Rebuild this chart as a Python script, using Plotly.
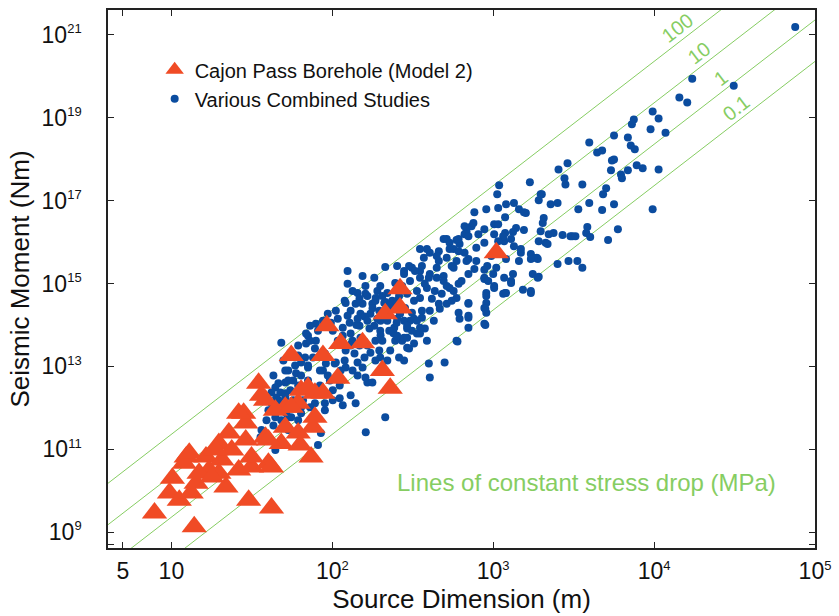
import plotly.graph_objects as go
import numpy as np

# ---------------- data (log10 values) ----------------
# Cajon Pass Borehole (Model 2): log10 source dimension (m), log10 seismic moment (Nm)
cajon_log_dim = [
    0.895, 1.142, 1.480, 1.622, 1.868, 2.034, 1.542, 1.585, 1.449, 1.357,
    1.295, 1.092, 1.006, 0.988, 1.049, 1.123, 1.215, 1.234, 1.339, 1.418,
    1.498, 1.603, 1.585, 1.683, 1.708, 1.788, 1.800, 1.880, 1.892, 1.708,
    1.788, 1.806, 1.892, 1.942, 1.646, 1.462, 1.375, 1.314, 1.154, 1.295,
    3.019, 1.966, 1.745, 1.942, 2.052, 2.188, 2.329, 2.421, 2.421, 2.311,
    2.360, 1.080, 1.111, 1.172, 1.252, 1.418, 1.498, 1.622, 1.603, 1.277,
    1.462, 1.560, 1.849, 1.745,
]
cajon_log_moment = [
    9.46, 9.13, 9.77, 9.58, 10.81, 12.71, 12.59, 12.18, 11.87, 11.39,
    11.14, 10.81, 10.30, 9.94, 9.77, 9.94, 10.81, 10.50, 10.09, 10.50,
    10.57, 10.66, 11.29, 11.14, 11.53, 11.39, 11.10, 11.53, 11.77, 12.01,
    12.11, 12.42, 12.35, 12.35, 11.94, 11.63, 10.98, 10.74, 10.18, 10.42,
    15.74, 13.98, 13.26, 13.26, 13.55, 13.57, 14.27, 14.87, 14.41, 12.90,
    12.47, 10.66, 10.90, 10.42, 10.33, 11.87, 10.81, 10.57, 11.22, 10.98,
    11.22, 12.30, 12.49, 12.01,
]

# Various Combined Studies: log10 source dimension (m), log10 seismic moment (Nm)
studies_log_dim = [
    4.877, 4.495, 4.237, 4.157, 4.206, 3.991, 4.028, 3.978, 4.071, 3.874,
    3.862, 3.751, 3.837, 3.855, 3.880, 3.597, 3.646, 3.677, 3.738, 3.751,
    3.892, 3.929, 4.028, 3.837, 3.732, 3.794, 3.800, 3.462, 3.406, 3.443,
    3.449, 3.228, 3.554, 3.702, 3.683, 3.302, 3.283, 3.357, 3.400, 3.529,
    3.597, 3.677, 3.751, 3.991, 3.775, 3.714, 3.585, 3.578, 3.603, 3.492,
    3.431, 3.554, 3.468, 3.400, 3.234, 3.185, 3.283, 3.271, 3.326, 3.345,
    3.295, 3.308, 3.314, 3.037, 3.025, 2.957, 2.883, 3.031, 3.080, 3.129,
    3.160, 3.203, 3.074, 3.142, 3.123, 3.191, 3.006, 2.945, 2.834, 2.822,
    2.772, 2.711, 2.662, 2.895, 2.945, 2.846, 2.754, 2.791, 3.068, 3.074,
    3.129, 3.172, 3.160, 3.080, 3.234, 3.277, 2.963, 3.019, 3.123, 2.846,
    2.785, 2.729, 2.945, 2.957, 3.006, 3.074, 3.111, 2.846, 2.957, 2.588,
    2.569, 2.649, 2.606, 2.692, 2.754, 3.191, 3.295, 3.338, 3.283, 3.375,
    3.480, 3.511, 3.246, 3.277, 3.234, 3.172, 3.252, 3.111, 3.031, 2.908,
    2.846, 2.865, 2.785, 2.729, 2.692, 2.877, 2.822, 3.006, 3.062, 3.031,
    2.822, 2.785, 2.729, 2.606, 2.545, 2.662, 2.711, 2.772, 2.883, 2.945,
    3.000, 2.969, 3.006, 3.068, 3.111, 3.062, 2.957, 2.945, 2.957, 2.846,
    2.846, 2.791, 2.785, 2.772, 2.754, 2.692, 2.649, 2.600, 2.545, 2.495,
    2.446, 2.483, 2.588, 2.637, 2.680, 2.711, 2.668, 2.606, 2.557, 2.631,
    2.575, 2.526, 2.483, 2.465, 2.508, 2.465, 2.434, 2.421, 2.945, 2.772,
    2.698, 2.600, 2.606, 2.945, 2.834, 2.662, 3.080, 3.234, 3.523, 2.778,
    2.951, 2.951, 2.846, 2.846, 2.329, 2.477, 2.446, 2.514, 2.545, 2.261,
    2.298, 2.391, 2.342, 2.206, 2.249, 2.188, 2.145, 2.083, 2.114, 2.175,
    2.237, 2.292, 2.385, 2.465, 2.508, 2.545, 2.557, 2.508, 2.446, 2.385,
    2.495, 2.545, 2.446, 2.391, 2.298, 2.261, 2.231, 2.169, 2.108, 2.034,
    2.065, 2.114, 2.175, 2.268, 2.292, 2.298, 2.268, 2.200, 2.138, 2.083,
    2.169, 2.077, 2.157, 2.083, 2.126, 2.157, 2.218, 2.206, 1.972, 2.022,
    1.991, 1.898, 1.849, 1.898, 1.837, 1.892, 1.880, 1.831, 1.849, 1.942,
    1.960, 2.022, 2.052, 1.985, 2.046, 1.806, 1.775, 1.806, 1.726, 1.757,
    1.708, 1.665, 1.646, 1.622, 1.677, 1.708, 1.665, 1.622, 1.677, 1.714,
    1.683, 1.646, 1.745, 1.788, 1.806, 1.892, 1.954, 2.003, 1.929, 1.862,
    1.954, 1.683, 1.837, 1.862, 2.095, 2.077, 2.157, 2.206, 2.323, 2.415,
    2.421, 2.477, 2.360, 2.415, 2.465, 2.545, 2.575, 2.188, 2.249, 2.446,
    2.046, 2.114, 2.145, 2.329, 1.769, 1.708, 1.726, 1.849, 1.923, 1.972,
    2.015, 1.708, 1.652, 1.677, 1.726, 1.591, 1.560, 1.554, 1.646, 1.954,
    1.929, 1.911, 1.862, 1.806, 1.923, 2.208, 2.280, 2.434, 2.372, 2.200,
    2.300, 2.350, 2.250, 2.150, 2.300, 2.380, 2.200, 2.120, 2.400, 2.330,
    2.270, 2.126, 2.169, 2.218, 2.268, 2.311, 2.354, 2.403, 2.452, 2.495,
    2.526, 2.403, 2.342, 2.280, 2.218, 2.157, 2.095, 2.065, 2.126, 2.218,
    2.311, 2.354, 2.403, 2.465, 2.342, 2.237, 2.114, 2.034, 2.003, 1.942,
    1.911, 1.862, 1.788, 1.739, 1.788, 1.696, 1.634, 1.739, 1.788, 1.849,
    1.880, 1.757, 1.818, 1.603, 1.634, 1.726, 2.003, 2.065, 2.526, 2.619,
    2.711, 2.803, 2.895, 2.988, 2.742, 2.649, 2.557, 2.742, 2.588, 2.095,
    2.188, 2.403,
]
studies_log_moment = [
    21.19, 19.77, 19.94, 19.49, 19.37, 19.15, 18.98, 18.72, 18.64, 18.96,
    18.84, 18.57, 18.52, 18.33, 18.24, 18.40, 18.16, 18.21, 17.97, 17.99,
    17.85, 17.78, 17.75, 17.73, 17.73, 17.63, 17.54, 17.90, 17.75, 17.54,
    17.39, 17.44, 17.39, 17.30, 17.15, 17.15, 17.01, 16.91, 16.94, 16.79,
    16.94, 16.77, 16.91, 16.79, 16.31, 16.05, 16.36, 16.22, 16.12, 16.14,
    16.17, 15.38, 15.54, 15.47, 14.77, 14.85, 15.16, 15.62, 15.98, 16.19,
    16.26, 16.46, 16.58, 17.37, 17.15, 16.79, 16.72, 16.82, 16.91, 16.94,
    16.79, 16.70, 16.60, 16.34, 16.24, 16.29, 16.43, 16.31, 16.26, 16.19,
    16.05, 16.07, 15.78, 15.86, 15.98, 15.59, 15.83, 15.95, 16.02, 16.22,
    15.90, 15.74, 15.54, 15.59, 15.71, 15.59, 15.42, 15.38, 15.23, 15.23,
    14.99, 14.89, 15.11, 14.77, 14.94, 14.77, 15.06, 14.53, 14.53, 15.83,
    15.62, 15.38, 15.23, 15.18, 15.38, 16.72, 17.15, 15.95, 16.02, 16.22,
    16.14, 16.14, 15.23, 15.14, 14.82, 15.83, 15.62, 16.07, 16.43, 16.19,
    16.14, 16.38, 16.07, 15.98, 16.07, 16.46, 16.38, 16.19, 16.14, 16.02,
    15.74, 15.78, 15.83, 15.74, 15.83, 15.54, 15.62, 15.54, 15.35, 15.14,
    15.23, 15.06, 14.89, 15.14, 15.01, 14.75, 14.70, 14.41, 14.29, 14.51,
    14.17, 14.15, 14.29, 14.65, 14.82, 15.06, 15.14, 15.14, 15.30, 15.38,
    15.30, 15.06, 14.89, 14.82, 14.75, 14.51, 14.39, 14.34, 14.17, 14.10,
    13.91, 13.79, 14.10, 13.91, 13.55, 13.45, 13.62, 14.29, 14.03, 13.62,
    13.09, 13.07, 12.73, 15.33, 15.54, 14.51, 14.77, 15.59, 15.54, 13.60,
    14.00, 14.39, 13.93, 14.22, 15.40, 15.42, 15.23, 15.30, 15.14, 15.14,
    14.94, 15.01, 14.77, 14.75, 14.51, 14.51, 14.51, 14.53, 14.34, 14.27,
    14.27, 14.34, 14.51, 14.75, 14.58, 14.65, 14.34, 14.15, 14.10, 13.93,
    13.86, 13.79, 13.69, 13.62, 13.86, 13.98, 13.91, 13.98, 14.05, 14.15,
    13.93, 13.79, 13.69, 13.62, 13.38, 13.21, 13.14, 13.21, 13.31, 13.38,
    13.50, 13.14, 13.09, 12.97, 12.90, 12.78, 12.61, 12.73, 14.27, 14.34,
    14.05, 14.03, 13.74, 13.62, 13.55, 13.43, 13.21, 13.21, 13.02, 12.90,
    13.07, 13.09, 12.90, 12.66, 12.54, 13.09, 12.83, 12.78, 12.90, 12.66,
    12.61, 12.59, 12.49, 12.37, 12.37, 12.25, 12.18, 12.11, 11.99, 11.87,
    11.70, 11.77, 11.77, 11.70, 12.01, 12.11, 11.94, 12.18, 12.42, 12.35,
    13.31, 13.57, 13.79, 13.98, 14.99, 14.58, 14.77, 14.94, 14.53, 14.70,
    14.27, 13.43, 13.38, 13.21, 13.69, 13.93, 14.99, 12.97, 12.61, 13.14,
    12.23, 12.30, 12.11, 11.77, 13.02, 12.90, 12.66, 12.97, 12.90, 12.78,
    13.07, 12.35, 12.25, 11.94, 11.77, 11.70, 11.46, 11.29, 10.98, 12.11,
    11.39, 11.10, 12.01, 11.87, 12.54, 11.41, 14.82, 14.94, 14.58, 14.20,
    14.10, 14.30, 14.40, 14.00, 13.75, 13.80, 13.60, 13.55, 14.05, 14.55,
    14.65, 14.82, 14.63, 14.70, 14.58, 14.70, 14.46, 14.58, 14.41, 14.29,
    14.10, 14.15, 14.10, 14.15, 14.10, 14.15, 14.22, 13.74, 13.62, 13.50,
    13.62, 13.86, 13.74, 13.98, 13.14, 13.33, 13.50, 13.62, 13.86, 14.10,
    13.86, 13.62, 13.50, 13.33, 13.26, 13.14, 12.78, 12.42, 12.54, 12.66,
    12.42, 12.18, 12.18, 11.94, 11.57, 11.46, 12.42, 12.06, 14.82, 14.63,
    14.94, 15.06, 15.54, 15.66, 15.42, 15.66, 15.42, 14.58, 13.62, 15.30,
    15.18, 15.42,
]

# Constant stress-drop reference lines (MPa) and their label positions (log10 m)
stress_drops_mpa = [100, 10, 1, 0.1]
stress_labels = ["100", "10", "1", "0.1"]
label_log_dim = [4.145, 4.280, 4.415, 4.508]

SUP = "<sup><span style='font-size:13px'>{}</span></sup>"
x_tickvals = [5, 10, 1e2, 1e3, 1e4, 1e5]
x_ticktext = ["5", "10"] + ["10" + SUP.format(p) for p in [2, 3, 4, 5]]
y_tickvals = [5e8, 1e9, 1e11, 1e13, 1e15, 1e17, 1e19, 1e21]
y_ticktext = [""] + ["10" + SUP.format(p) for p in [9, 11, 13, 15, 17, 19, 21]]

# ---------------- styling ----------------
RED = "#f04b25"
BLUE = "#0b4c9f"
GREEN = "#86cd62"
FONT = "Liberation Sans, Arial, Helvetica, sans-serif"

fig = go.Figure()

# circular crack: M0 = 16/7 * stress_drop * r^3
r_line = np.logspace(0.5, 5.1, 50)
for sd in stress_drops_mpa:
    fig.add_trace(go.Scatter(
        x=r_line, y=16.0 / 7.0 * sd * 1e6 * r_line ** 3,
        mode="lines", line=dict(color=GREEN, width=1),
        showlegend=False, hoverinfo="skip"))

fig.add_trace(go.Scatter(
    x=[10 ** v for v in studies_log_dim],
    y=[10 ** v for v in studies_log_moment],
    mode="markers", name="Various Combined Studies",
    marker=dict(symbol="circle", size=8, color=BLUE, line=dict(width=0))))

fig.add_trace(go.Scatter(
    x=[10 ** v for v in cajon_log_dim],
    y=[10 ** v for v in cajon_log_moment],
    mode="markers", name="Cajon Pass Borehole (Model 2)",
    marker=dict(symbol="triangle-up", size=22, color=RED, line=dict(width=0))))

annotations = []
for sd, lab, lx in zip(stress_drops_mpa, stress_labels, label_log_dim):
    ly = np.log10(16.0 / 7.0 * sd * 1e6) + 3 * lx
    annotations.append(dict(
        x=lx, y=ly, xref="x", yref="y", text=lab, showarrow=False,
        xanchor="center", yanchor="middle",
        textangle=-37.5, yshift=15, font=dict(family=FONT, size=20, color=GREEN)))
annotations.append(dict(
    x=0.677, y=0.122, xref="paper", yref="paper", xanchor="center", yanchor="middle",
    text="Lines of constant stress drop (MPa)", showarrow=False,
    font=dict(family=FONT, size=24, color=GREEN)))

axis_common = dict(
    type="log", showgrid=False, zeroline=False,
    showline=True, linecolor="#222", linewidth=1.5, mirror="ticks",
    ticks="inside", ticklen=6, tickwidth=1.2, tickcolor="#222",
    tickfont=dict(family=FONT, size=23, color="#111"),
)

fig.update_layout(
    width=839, height=616,
    margin=dict(l=108, r=18, t=8, b=68),
    paper_bgcolor="white", plot_bgcolor="white",
    font=dict(family=FONT, color="#111"),
    showlegend=True,
    legend=dict(x=0.066, y=0.925, xanchor="left", yanchor="top",
                traceorder="reversed", bgcolor="rgba(0,0,0,0)",
                font=dict(family=FONT, size=20, color="#111"),
                itemwidth=30, tracegroupgap=0),
    annotations=annotations,
    xaxis=dict(axis_common, range=[0.606, 5.0],
               tickvals=x_tickvals, ticktext=x_ticktext, ticklabelstandoff=2,
               title=dict(text="Source Dimension (m)", standoff=4,
                          font=dict(family=FONT, size=26, color="#111"))),
    yaxis=dict(axis_common, range=[8.615, 21.6],
               tickvals=y_tickvals, ticktext=y_ticktext, ticklabelstandoff=20,
               title=dict(text="Seismic Moment (Nm)", standoff=4,
                          font=dict(family=FONT, size=26, color="#111"))),
)

fig.write_html("out.html")
